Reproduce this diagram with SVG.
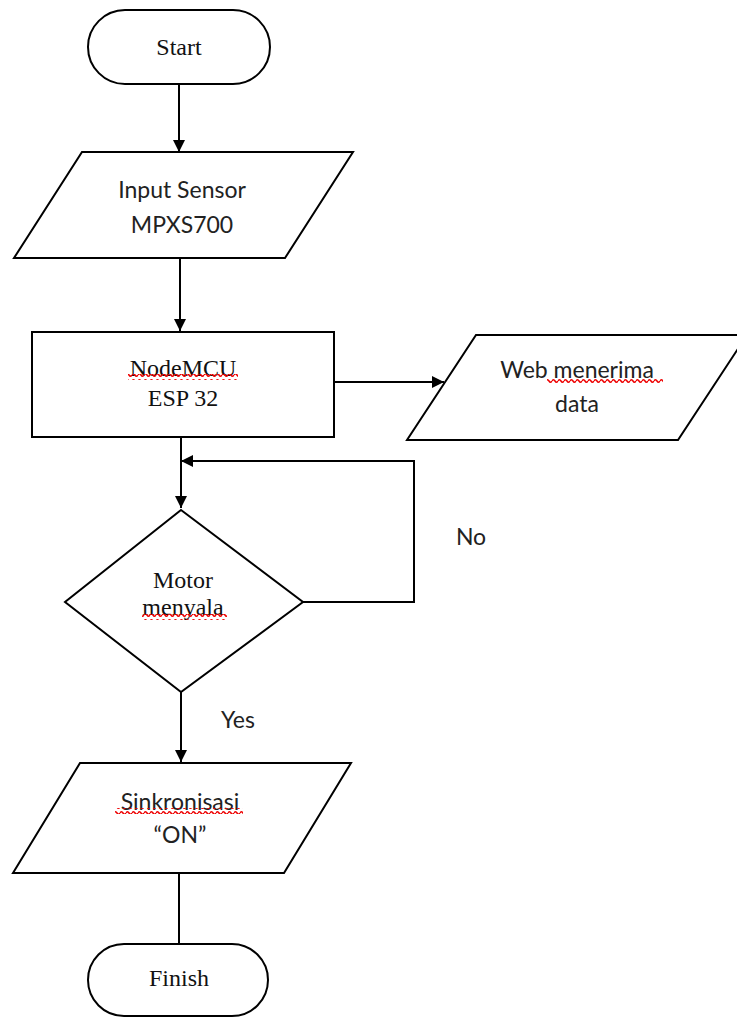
<svg xmlns="http://www.w3.org/2000/svg" width="737" height="1019" viewBox="0 0 737 1019">
<style>
.shape{fill:#fff;stroke:#000;stroke-width:2}
.line{fill:none;stroke:#000;stroke-width:2}
.serif{font-family:"Liberation Serif","Times New Roman",serif;font-size:24px;fill:#111;text-anchor:middle}
.sans{font-family:Lato,"Open Sans","Liberation Sans",sans-serif;font-size:23px;fill:#222;text-anchor:middle}
.sq{fill:url(#squig)}
</style>
<defs>
<marker id="arr" viewBox="0 0 10 10" refX="10" refY="5" markerWidth="12" markerHeight="12" markerUnits="userSpaceOnUse" orient="auto">
<path d="M0 0 L10 5 L0 10 z" fill="#000"/>
</marker>
<pattern id="squig" width="6" height="6" patternUnits="userSpaceOnUse">
<path d="M0 3 Q1.5 0.5 3 3 T6 3" fill="none" stroke="#e00" stroke-width="1.5"/>
</pattern>
</defs>
<rect width="737" height="1019" fill="#fff"/>
<g id="connectors">
<line class="line" x1="179" y1="84" x2="179" y2="152" marker-end="url(#arr)"/>
<line class="line" x1="180" y1="258" x2="180" y2="331" marker-end="url(#arr)"/>
<line class="line" x1="334" y1="382" x2="444" y2="382" marker-end="url(#arr)"/>
<line class="line" x1="181" y1="437" x2="181" y2="508" marker-end="url(#arr)"/>
<polyline class="line" points="303,602 414,602 414,461 181,461" marker-end="url(#arr)"/>
<line class="line" x1="181" y1="692" x2="181" y2="762" marker-end="url(#arr)"/>
<line class="line" x1="179" y1="873" x2="179" y2="944"/>
<text class="sans" x="471" y="545">No</text>
<text class="sans" x="238" y="728">Yes</text>
</g>
<g id="start">
<rect class="shape" x="88" y="10" width="182" height="74" rx="37" ry="37"/>
<text class="serif" x="179" y="55">Start</text>
</g>
<g id="input">
<polygon class="shape" points="82,152 353,152 285,258 14,258"/>
<text class="sans" x="182" y="198">Input Sensor</text>
<text class="sans" x="182" y="233">MPXS700</text>
</g>
<g id="nodemcu">
<rect class="shape" x="32" y="332" width="302" height="105"/>
<text class="serif" x="183" y="376">NodeMCU</text>
<rect class="sq" x="128" y="374" width="110" height="6"/>
<text class="serif" x="183" y="406">ESP 32</text>
</g>
<g id="web">
<polygon class="shape" points="476,335 747,335 678,440 407,440"/>
<text class="sans" x="577" y="378">Web menerima</text>
<rect class="sq" x="547" y="379" width="116" height="6"/>
<text class="sans" x="577" y="412">data</text>
</g>
<g id="decision">
<polygon class="shape" points="181,510 303,602 181,692 65,602"/>
<text class="serif" x="183" y="588">Motor</text>
<text class="serif" x="183" y="615">menyala</text>
<rect class="sq" x="142" y="614" width="85" height="6"/>
</g>
<g id="sinkron">
<polygon class="shape" points="80,763 351,763 284,873 13,873"/>
<text class="sans" x="180" y="810">Sinkronisasi</text>
<rect class="sq" x="115" y="808" width="128" height="6"/>
<text class="sans" x="180" y="843">“ON”</text>
</g>
<g id="finish">
<rect class="shape" x="88" y="944" width="180" height="72" rx="36" ry="36"/>
<text class="serif" x="179" y="986">Finish</text>
</g>
</svg>
